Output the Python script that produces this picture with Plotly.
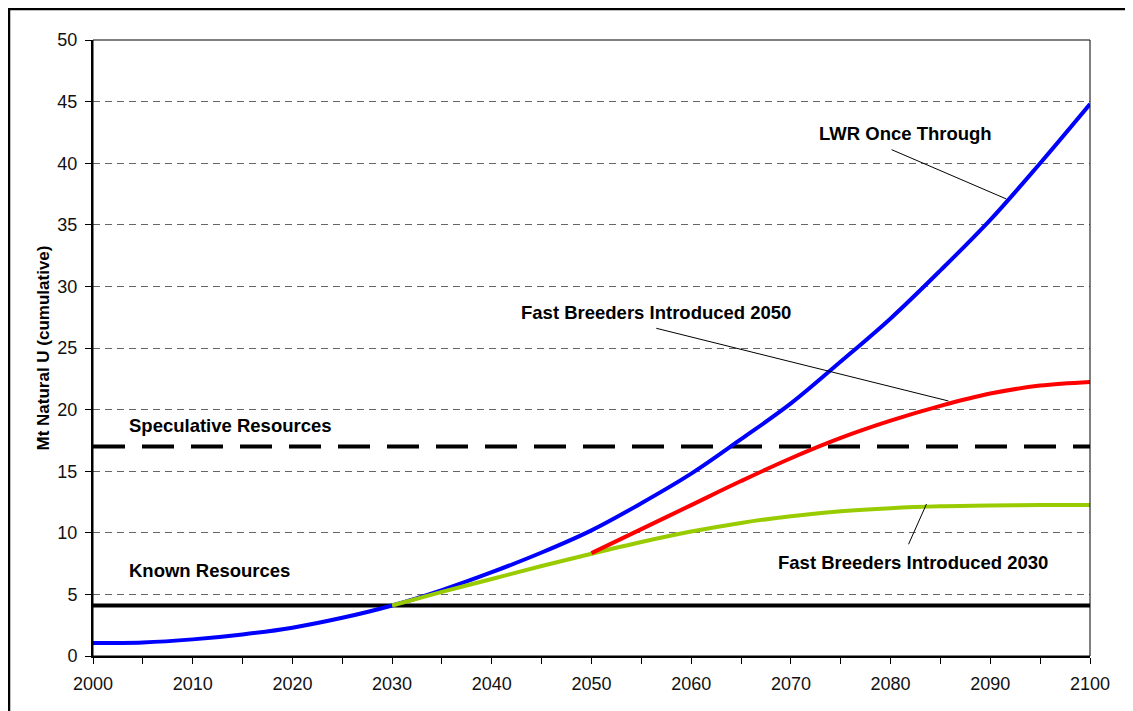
import plotly.graph_objects as go

# ---- data ----
years_lwr = [2000, 2005, 2010, 2015, 2020, 2025, 2030, 2035, 2040, 2045, 2050,
             2055, 2060, 2065, 2070, 2075, 2080, 2085, 2090, 2095, 2100]
lwr_once_through = [1.05, 1.1, 1.35, 1.75, 2.3, 3.1, 4.1, 5.35, 6.8, 8.4, 10.2,
                    12.4, 14.8, 17.6, 20.5, 23.9, 27.4, 31.3, 35.4, 40.0, 44.8]

years_fb2030 = [2030, 2035, 2040, 2045, 2050, 2055, 2060, 2065, 2070, 2075,
                2080, 2085, 2090, 2095, 2100]
fb_2030 = [4.1, 5.2, 6.25, 7.3, 8.3, 9.25, 10.1, 10.8, 11.35, 11.75,
           12.0, 12.15, 12.22, 12.25, 12.25]

years_fb2050 = [2050, 2055, 2060, 2065, 2070, 2075, 2080, 2085, 2090, 2095, 2100]
fb_2050 = [8.35, 10.3, 12.25, 14.2, 16.05, 17.7, 19.1, 20.3, 21.3, 21.95, 22.25]

res_years = [2000, 2100]
known_resources = [4.1, 4.1]
speculative_resources = [17, 17]

x_ticks = [2000, 2010, 2020, 2030, 2040, 2050, 2060, 2070, 2080, 2090, 2100]
y_ticks = [0, 5, 10, 15, 20, 25, 30, 35, 40, 45, 50]

FONT = "Liberation Sans, Arial, sans-serif"

# page body has an 8px margin -> figure drawn from (8,8)
W, H = 1125, 703
ML, MR, MT, MB = 85, 43, 32, 55
PW = W - ML - MR
PH = H - MT - MB

fig = go.Figure()
fig.add_trace(go.Scatter(x=res_years, y=speculative_resources, mode="lines",
                         line=dict(color="black", width=4, dash="32px,17px"),
                         hoverinfo="skip"))
fig.add_trace(go.Scatter(x=res_years, y=known_resources, mode="lines",
                         line=dict(color="black", width=4), hoverinfo="skip"))
fig.add_trace(go.Scatter(x=years_lwr, y=lwr_once_through, mode="lines",
                         line=dict(color="#0000FF", width=4, shape="spline"),
                         name="LWR Once Through"))
fig.add_trace(go.Scatter(x=years_fb2030, y=fb_2030, mode="lines",
                         line=dict(color="#99CC00", width=4, shape="spline"),
                         name="Fast Breeders Introduced 2030"))
fig.add_trace(go.Scatter(x=years_fb2050, y=fb_2050, mode="lines",
                         line=dict(color="#FF0000", width=4, shape="spline"),
                         name="Fast Breeders Introduced 2050"))

labels = [
    ("LWR Once Through", 2081.5, 42.4),
    ("Fast Breeders Introduced 2050", 2056.5, 27.9),
    ("Fast Breeders Introduced 2030", 2082.2, 7.55),
    ("Speculative Resources", 2013.8, 18.7),
    ("Known Resources", 2011.7, 6.98),
]
for txt, lx, ly in labels:
    fig.add_annotation(x=lx, y=ly, text="<b>%s</b>" % txt, showarrow=False,
                       font=dict(family=FONT, size=18.5, color="black"),
                       xanchor="center", yanchor="middle")

leaders = [
    (2080.1, 41.1, 2091.6, 37.1),
    (2056.5, 26.6, 2085.8, 20.7),
    (2081.8, 9.07, 2083.6, 12.34),
]
for x0, y0, x1, y1 in leaders:
    fig.add_shape(type="line", xref="x", yref="y", x0=x0, y0=y0, x1=x1, y1=y1,
                  line=dict(color="black", width=1))

# plot area top/right border
fig.add_shape(type="rect", xref="paper", yref="paper", x0=0, y0=0, x1=1, y1=1,
              line=dict(color="black", width=1), layer="above")
# outer frame (cut off at right/bottom)
fig.add_shape(type="rect", xref="paper", yref="paper",
              x0=(1 - ML) / PW, y0=-(MB + 20) / PH,
              x1=(W + 20 - ML) / PW, y1=(PH + MT - 1) / PH,
              line=dict(color="black", width=2.5))

fig.update_layout(
    width=W, height=H,
    margin=dict(l=ML, r=MR, t=MT, b=MB, autoexpand=False),
    paper_bgcolor="white", plot_bgcolor="white",
    showlegend=False,
    font=dict(family=FONT, size=18, color="black"),
)
fig.update_xaxes(range=[2000, 2100], tickvals=x_ticks, ticks="outside", ticklen=6,
                 tickcolor="black", showline=True, linecolor="black", linewidth=1.5,
                 showgrid=False, zeroline=False, automargin=False,
                 ticklabelstandoff=5,
                 minor=dict(dtick=5, tick0=2000, ticks="outside", ticklen=6,
                            tickcolor="black", showgrid=False),
                 tickfont=dict(family=FONT, size=18, color="#111"))
fig.update_yaxes(range=[0, 50], tickvals=y_ticks, ticks="outside", ticklen=6,
                 tickcolor="black", showline=True, linecolor="black", linewidth=2,
                 showgrid=True, gridcolor="#666666", gridwidth=1, griddash="7px,5px",
                 zeroline=False, automargin=False, ticklabelstandoff=4,
                 title=dict(text="<b>Mt Natural U (cumulative)</b>",
                            font=dict(family=FONT, size=17, color="black"),
                            standoff=3),
                 tickfont=dict(family=FONT, size=18, color="#111"))

fig.write_html("out.html")
